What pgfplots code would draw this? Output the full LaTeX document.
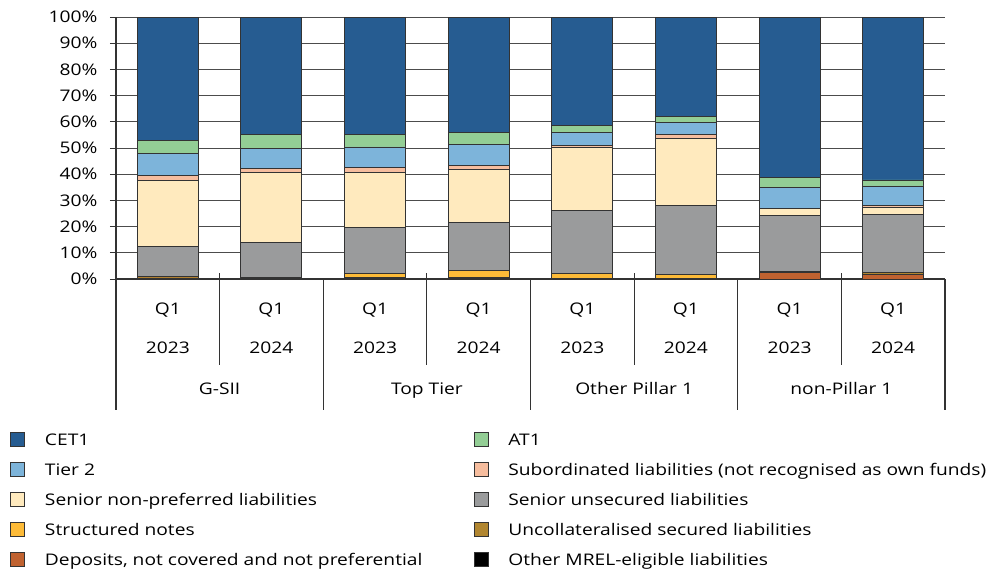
\documentclass[border=0pt]{standalone}
\usepackage{fontspec}
\setmainfont{Open Sans}[FakeStretch=1.2]
\usepackage{pgfplots}
\usepackage{pgfplotstable}
\pgfplotsset{compat=1.18}

\definecolor{cetone}{HTML}{265C91}
\definecolor{atone}{HTML}{93CE95}
\definecolor{tiertwo}{HTML}{7DB4DA}
\definecolor{subord}{HTML}{F6BD9E}
\definecolor{snp}{HTML}{FFEABE}
\definecolor{sunsec}{HTML}{9A9B9C}
\definecolor{struct}{HTML}{FDBB38}
\definecolor{uncoll}{HTML}{B18630}
\definecolor{depos}{HTML}{C06230}
\definecolor{edge}{HTML}{333333}

% shares in % per bar (G-SII, Top Tier, Other Pillar 1, non-Pillar 1; Q1 2023 / Q1 2024)
\pgfplotstableread{
x other dep  uncoll struct su   snp  sub t2  at1 cet1
0 0.1   0.3  0.5    0.1    11.5 25.0 2.0 8.3 5.2 47.0
1 0.1   0.0  0.4    0.0    13.5 26.8 1.4 7.6 5.2 45.0
2 0.0   0.3  0.3    1.5    17.7 21.0 1.7 7.9 4.7 44.9
3 0.0   0.2  0.4    2.6    18.2 20.5 1.6 7.9 4.4 44.2
4 0.1   0.0  0.0    2.0    24.1 24.2 0.6 5.1 2.4 41.5
5 0.0   0.1  0.0    1.6    26.3 25.5 1.7 4.6 2.3 37.9
6 0.0   2.6  0.4    0.0    21.3 2.7  0.1 8.0 3.7 61.2
7 0.0   1.9  0.6    0.0    22.2 2.8  0.7 7.3 2.3 62.2
}\mreldata

\newcommand{\fs}{\fontsize{16}{19}\selectfont}

\begin{document}
\begin{tikzpicture}[x=1pt,y=1pt]
\useasboundingbox (0,0) rectangle (990,-572);
\begin{axis}[
    at={(116pt,-279pt)}, anchor=south west,
    scale only axis, width=829pt, height=262pt,
    ybar stacked, bar width=61pt,
    xmin=-0.5, xmax=7.5, ymin=0, ymax=100,
    axis lines*=left,
    axis line style={edge, line width=1.3pt},
    xtick=\empty,
    ytick={0,10,...,100},
    /pgf/number format/assume math mode=true,
    yticklabel={\pgfmathprintnumber{\tick}\%},
    yticklabel style={font=\fs, xshift=-9pt},
    tick align=outside, major tick length=6pt,
    ytick style={edge, line width=1pt},
    ymajorgrids, grid style={black!70, line width=1pt},
    every axis plot/.append style={draw=edge, line width=0.9pt},
    clip=false,
    reverse legend,
    legend columns=2,
    legend cell align=left,
    legend image code/.code={\draw[#1] (0pt,-1.5pt) rectangle (14pt,12.5pt);},
    legend style={
        at={(-0.128,-0.557)}, anchor=north west,
        draw=none, fill=none, font=\fs,
        inner sep=0pt, row sep=0pt,
        nodes={inner sep=0pt, text height=20pt, text depth=10pt, anchor=base west},
        /tikz/column 1/.style={column sep=20pt},
        /tikz/column 2/.style={column sep=52pt},
        /tikz/column 3/.style={column sep=19pt},
    },
]
\addplot[fill=black]  table[x=x,y=other]  {\mreldata}; \addlegendentry{Other MREL-eligible liabilities}
\addplot[fill=depos]  table[x=x,y=dep]    {\mreldata}; \addlegendentry{Deposits, not covered and not preferential}
\addplot[fill=uncoll] table[x=x,y=uncoll] {\mreldata}; \addlegendentry{Uncollateralised secured liabilities}
\addplot[fill=struct] table[x=x,y=struct] {\mreldata}; \addlegendentry{Structured notes}
\addplot[fill=sunsec] table[x=x,y=su]     {\mreldata}; \addlegendentry{Senior unsecured liabilities}
\addplot[fill=snp]    table[x=x,y=snp]    {\mreldata}; \addlegendentry{Senior non-preferred liabilities}
\addplot[fill=subord] table[x=x,y=sub]    {\mreldata}; \addlegendentry{Subordinated liabilities (not recognised as own funds)}
\addplot[fill=tiertwo] table[x=x,y=t2]    {\mreldata}; \addlegendentry{Tier 2}
\addplot[fill=atone]  table[x=x,y=at1]    {\mreldata}; \addlegendentry{AT1}
\addplot[fill=cetone] table[x=x,y=cet1]   {\mreldata}; \addlegendentry{CET1}
\end{axis}

% category axis: separators and labels
\foreach \k in {0,...,4}
    \draw[edge, line width=1.2pt] ({116+207.25*\k},-279) -- ({116+207.25*\k},-410);
\foreach \k in {0,...,3}
    \draw[edge, line width=1.2pt] ({116+207.25*\k+103.625},-273) -- ({116+207.25*\k+103.625},-365);
\foreach \i/\yr in {0/2023,1/2024,2/2023,3/2024,4/2023,5/2024,6/2023,7/2024} {
    \node[font=\fs, anchor=base, inner sep=0pt] at ({116+103.625*(\i+0.5)},-314) {Q1};
    \node[font=\fs, anchor=base, inner sep=0pt] at ({116+103.625*(\i+0.5)},-353) {\yr};
}
\foreach \g/\name in {0/G-SII,1/Top Tier,2/Other Pillar 1,3/non-Pillar 1}
    \node[font=\fs, anchor=base, inner sep=0pt] at ({116+207.25*(\g+0.5)},-394) {\name};
\end{tikzpicture}
\end{document}
